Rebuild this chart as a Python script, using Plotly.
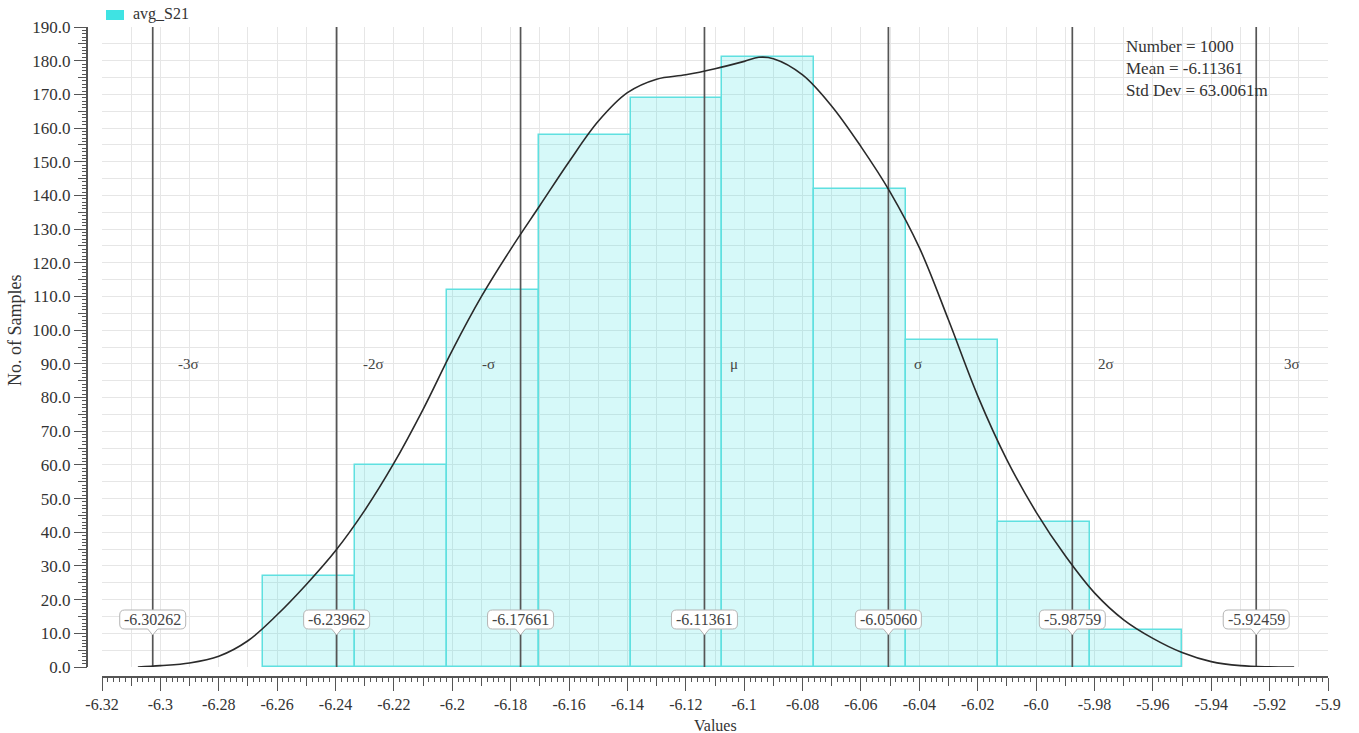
import plotly.graph_objects as go

# ---------------- data ----------------
series_name = "avg_S21"
bin_edges = [-6.2648, -6.2333, -6.2019, -6.1704, -6.1389, -6.1075,
             -6.0760, -6.0445, -6.0130, -5.9816, -5.9501]
counts = [27, 60, 112, 158, 169, 181, 142, 97, 43, 11]

curve_x = [-6.3077, -6.30, -6.29, -6.28, -6.27, -6.26, -6.25, -6.24, -6.23, -6.22,
           -6.21, -6.20, -6.19, -6.18, -6.17, -6.16, -6.15, -6.14, -6.13, -6.12,
           -6.11, -6.10, -6.095, -6.09, -6.08, -6.07, -6.06, -6.05, -6.04, -6.03,
           -6.02, -6.01, -6.00, -5.99, -5.98, -5.97, -5.96, -5.95, -5.94, -5.93,
           -5.92, -5.9116]
curve_y = [0.0, 0.4, 1.2, 3.2, 7.8, 15.5, 24.5, 34.5, 46.5, 60.5,
           76.5, 94.0, 110.0, 124.0, 137.0, 150.0, 162.0, 170.5, 174.5, 175.8,
           177.6, 179.8, 181.0, 180.6, 175.8, 166.5, 154.5, 141.0, 124.5, 103.0,
           80.5, 61.5, 46.0, 33.0, 22.0, 14.0, 8.5, 4.3, 1.6, 0.4,
           0.05, 0.0]

sigma_vals = [-6.30262, -6.23962, -6.17661, -6.11361, -6.05060, -5.98759, -5.92459]
sigma_names = ["-3σ", "-2σ", "-σ", "μ", "σ", "2σ", "3σ"]
sigma_texts = ["-6.30262", "-6.23962", "-6.17661", "-6.11361", "-6.05060", "-5.98759", "-5.92459"]

stats_lines = ["Number = 1000", "Mean = -6.11361", "Std Dev = 63.0061m"]

x_tick_vals = [-6.32, -6.30, -6.28, -6.26, -6.24, -6.22, -6.20, -6.18, -6.16, -6.14, -6.12,
               -6.10, -6.08, -6.06, -6.04, -6.02, -6.00, -5.98, -5.96, -5.94, -5.92, -5.90]
x_tick_text = ["-6.32", "-6.3", "-6.28", "-6.26", "-6.24", "-6.22", "-6.2", "-6.18", "-6.16",
               "-6.14", "-6.12", "-6.1", "-6.08", "-6.06", "-6.04", "-6.02", "-6.0", "-5.98",
               "-5.96", "-5.94", "-5.92", "-5.9"]
y_tick_vals = [0, 10, 20, 30, 40, 50, 60, 70, 80, 90, 100, 110, 120, 130, 140, 150, 160, 170, 180, 190]
y_tick_text = ["0.0", "10.0", "20.0", "30.0", "40.0", "50.0", "60.0", "70.0", "80.0", "90.0",
               "100.0", "110.0", "120.0", "130.0", "140.0", "150.0", "160.0", "170.0", "180.0", "190.0"]

x_title = "Values"
y_title = "No. of Samples"

# ---------------- layout constants ----------------
W, H = 1359, 733
ML, MR, MT, MB = 87, 31, 27, 56
PW, PH = W - ML - MR, H - MT - MB
X_RANGE = [-6.32, -5.90]
Y_RANGE = [0, 190]
XD0 = 15 / PW          # plot area starts 15px right of y ruler
YD0 = 10 / PH          # plot area starts 10px above x ruler
plot_px_w = PW * (1 - XD0)
plot_px_h = PH * (1 - YD0)
sx = (X_RANGE[1] - X_RANGE[0]) / plot_px_w   # data units per px (x)
sy = (Y_RANGE[1] - Y_RANGE[0]) / plot_px_h   # data units per px (y)

FONT = "Liberation Serif"
AX = "#555555"
GRID = "#e6e6e6"
BAR_FILL = "rgba(60, 225, 225, 0.21)"
BAR_EDGE = "#5fe0e0"

def paper_x(px):
    return (px - ML) / PW

def paper_y(py):
    return (H - MB - py) / PH

fig = go.Figure()

# histogram bars
centers = [(a + b) / 2 for a, b in zip(bin_edges[:-1], bin_edges[1:])]
widths = [b - a for a, b in zip(bin_edges[:-1], bin_edges[1:])]
fig.add_trace(go.Bar(x=centers, y=counts, width=widths, name=series_name,
                     marker=dict(color=BAR_FILL, line=dict(color=BAR_EDGE, width=1.5)),
                     showlegend=False))

# sigma lines
lx, ly = [], []
for v in sigma_vals:
    lx += [v, v, None]
    ly += [Y_RANGE[0], Y_RANGE[1], None]
fig.add_trace(go.Scatter(x=lx, y=ly, mode="lines", line=dict(color="#555555", width=1.7),
                         showlegend=False, hoverinfo="skip"))

# density curve
fig.add_trace(go.Scatter(x=curve_x, y=curve_y, mode="lines",
                         line=dict(color="#2a2a2a", width=1.6, shape="spline", smoothing=1.0),
                         showlegend=False, hoverinfo="skip"))

# dummy trace for overlay axes
fig.add_trace(go.Scatter(x=[None], y=[None], xaxis="x2", yaxis="y2", showlegend=False,
                         hoverinfo="skip"))

shapes = []
annotations = []

# sigma region labels
label_shift = [36, 37, -32, 30, 30, 34, 36]
for v, name, sh in zip(sigma_vals, sigma_names, label_shift):
    annotations.append(dict(x=v, y=90, xref="x", yref="y", text=name, showarrow=False,
                            xanchor="center", yanchor="middle",
                            xshift=sh, font=dict(family=FONT, size=15, color="#444444")))

# value callout boxes
yc = (667 - 619.5) * sy
hw, hh = 33 * sx, 9.5 * sy
rx, ry = 5 * sx, 5 * sy
pw, pd = 5 * sx, 6 * sy
for v, t in zip(sigma_vals, sigma_texts):
    x0, x1 = v - hw, v + hw
    yt, yb = yc + hh, yc - hh
    path = (f"M {x0+rx},{yt} L {x1-rx},{yt} Q {x1},{yt} {x1},{yt-ry} L {x1},{yb+ry} "
            f"Q {x1},{yb} {x1-rx},{yb} L {v+pw},{yb} L {v},{yb-pd} L {v-pw},{yb} "
            f"L {x0+rx},{yb} Q {x0},{yb} {x0},{yb+ry} L {x0},{yt-ry} Q {x0},{yt} {x0+rx},{yt} Z")
    shapes.append(dict(type="path", path=path, xref="x", yref="y", layer="above",
                       fillcolor="white", line=dict(color="#b5b5b5", width=1)))
    annotations.append(dict(x=v, y=yc, xref="x", yref="y", text=t, showarrow=False,
                            xanchor="center", yanchor="middle",
                            font=dict(family=FONT, size=16, color="#444444")))

# legend (manual)
shapes.append(dict(type="rect", xref="paper", yref="paper",
                   x0=paper_x(106), x1=paper_x(124), y0=paper_y(20), y1=paper_y(10),
                   fillcolor="#3fe3e3", line=dict(width=0)))
annotations.append(dict(x=paper_x(131), y=paper_y(14), xref="paper", yref="paper",
                        xanchor="left", yanchor="middle", text=series_name, showarrow=False,
                        font=dict(family=FONT, size=16, color="#333333")))

# statistics box
annotations.append(dict(x=paper_x(1124), y=paper_y(35), xref="paper", yref="paper",
                        xanchor="left", yanchor="top", align="left",
                        text="<br>".join(stats_lines), showarrow=False,
                        font=dict(family=FONT, size=17, color="#333333")))

# axis titles
annotations.append(dict(x=paper_x(715), y=paper_y(725), xref="paper", yref="paper",
                        xanchor="center", yanchor="middle",
                        text=x_title, showarrow=False,
                        font=dict(family=FONT, size=16, color="#333333")))
annotations.append(dict(x=paper_x(15), y=paper_y(330), xref="paper", yref="paper",
                        xanchor="center", yanchor="middle",
                        text=y_title, showarrow=False, textangle=-90,
                        font=dict(family=FONT, size=18, color="#333333")))

fig.update_layout(
    width=W, height=H,
    margin=dict(l=ML, r=MR, t=MT, b=MB, pad=0),
    paper_bgcolor="white", plot_bgcolor="white",
    bargap=0,
    shapes=shapes, annotations=annotations,
    xaxis=dict(range=X_RANGE, domain=[XD0, 1], anchor="free", position=0,
               tick0=-6.32, dtick=0.01, ticks="outside", ticklen=8, tickwidth=1.3, tickcolor=AX,
               showticklabels=False, showgrid=True, gridcolor=GRID, gridwidth=1,
               showline=True, linecolor=AX, linewidth=1.6, zeroline=False,
               minor=dict(tick0=-6.32, dtick=0.002, ticks="outside", ticklen=4,
                          tickwidth=1, tickcolor=AX, showgrid=False)),
    xaxis2=dict(range=X_RANGE, domain=[XD0, 1], overlaying="x", anchor="free", position=0,
                tickmode="array", tickvals=x_tick_vals, ticktext=x_tick_text,
                ticks="outside", ticklen=13, tickwidth=1.3, tickcolor=AX,
                tickfont=dict(family=FONT, size=16, color="#333333"),
                showgrid=False, showline=False, zeroline=False),
    yaxis=dict(range=Y_RANGE, domain=[YD0, 1], anchor="free", position=0,
               tick0=0, dtick=5, ticks="outside", ticklen=8, tickwidth=1.3, tickcolor=AX,
               showticklabels=False, showgrid=True, gridcolor=GRID, gridwidth=1,
               showline=True, linecolor=AX, linewidth=1.6, zeroline=False,
               minor=dict(tick0=0, dtick=1, ticks="outside", ticklen=4,
                          tickwidth=1, tickcolor=AX, showgrid=False)),
    yaxis2=dict(range=Y_RANGE, domain=[YD0, 1], overlaying="y", anchor="free", position=0,
                tickmode="array", tickvals=y_tick_vals, ticktext=y_tick_text,
                ticks="outside", ticklen=13, tickwidth=1.3, tickcolor=AX,
                tickfont=dict(family=FONT, size=17, color="#333333"),
                showgrid=False, showline=False, zeroline=False),
)

fig.write_html("out.html")
